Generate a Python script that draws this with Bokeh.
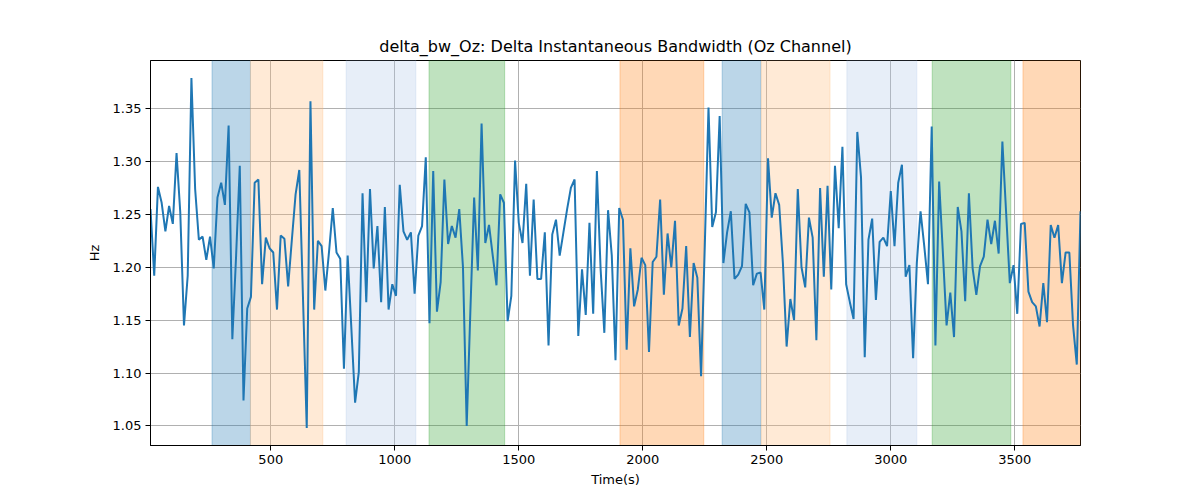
from bokeh.plotting import figure
from bokeh.models import Range1d, FixedTicker, ColumnDataSource
from bokeh.embed import file_html
from bokeh.resources import INLINE

title_text = "delta_bw_Oz: Delta Instantaneous Bandwidth (Oz Channel)"
x_label = "Time(s)"
y_label = "Hz"

t_start = 15
t_step = 15
bandwidth = [
    1.255, 1.192, 1.276, 1.261, 1.234, 1.258, 1.241, 1.308, 1.252, 1.145,
    1.192, 1.379, 1.274, 1.226, 1.229, 1.207, 1.229, 1.199, 1.266, 1.280,
    1.259, 1.334, 1.132, 1.210, 1.296, 1.074, 1.161, 1.172, 1.280, 1.283,
    1.184, 1.228, 1.218, 1.214, 1.160, 1.230, 1.227, 1.182, 1.226, 1.269,
    1.292, 1.170, 1.048, 1.357, 1.160, 1.225, 1.220, 1.178, 1.215, 1.256,
    1.214, 1.208, 1.104, 1.211, 1.142, 1.072, 1.101, 1.270, 1.167, 1.274,
    1.199, 1.239, 1.167, 1.257, 1.160, 1.184, 1.173, 1.278, 1.234, 1.226,
    1.233, 1.175, 1.230, 1.239, 1.304, 1.147, 1.291, 1.158, 1.186, 1.283,
    1.222, 1.239, 1.228, 1.255, 1.200, 1.050, 1.160, 1.266, 1.197, 1.336,
    1.223, 1.240, 1.211, 1.183, 1.269, 1.261, 1.149, 1.173, 1.301, 1.242,
    1.223, 1.279, 1.192, 1.264, 1.189, 1.189, 1.233, 1.126, 1.231, 1.245,
    1.211, 1.233, 1.255, 1.275, 1.283, 1.135, 1.198, 1.155, 1.242, 1.156,
    1.291, 1.198, 1.138, 1.254, 1.211, 1.112, 1.256, 1.245, 1.122, 1.218,
    1.163, 1.179, 1.209, 1.202, 1.120, 1.205, 1.210, 1.264, 1.174, 1.232,
    1.200, 1.244, 1.145, 1.161, 1.220, 1.134, 1.204, 1.190, 1.097, 1.220,
    1.351, 1.238, 1.252, 1.343, 1.204, 1.233, 1.253, 1.189, 1.193, 1.201,
    1.260, 1.252, 1.183, 1.194, 1.195, 1.160, 1.303, 1.247, 1.270, 1.259,
    1.204, 1.125, 1.170, 1.150, 1.274, 1.200, 1.181, 1.247, 1.228, 1.131,
    1.275, 1.191, 1.277, 1.179, 1.296, 1.237, 1.314, 1.184, 1.167, 1.151,
    1.328, 1.285, 1.115, 1.226, 1.246, 1.169, 1.224, 1.228, 1.220, 1.272,
    1.220, 1.280, 1.297, 1.191, 1.202, 1.114, 1.204, 1.253, 1.220, 1.184,
    1.333, 1.126, 1.281, 1.214, 1.145, 1.176, 1.134, 1.257, 1.234, 1.168,
    1.270, 1.199, 1.174, 1.201, 1.210, 1.245, 1.222, 1.244, 1.213, 1.319,
    1.252, 1.185, 1.202, 1.156, 1.241, 1.242, 1.177, 1.167, 1.163, 1.144,
    1.185, 1.148, 1.240, 1.228, 1.240, 1.185, 1.214, 1.214, 1.145, 1.108,
    1.253,
]
times = [t_start + t_step * i for i in range(len(bandwidth))]

span_start = [263, 418, 804, 1138, 1908, 2320, 2478, 2823, 3167, 3533]
span_end = [418, 710, 1085, 1443, 2246, 2476, 2755, 3105, 3484, 3800]
span_color = ["#1f77b4", "#ffbb78", "#aec7e8", "#2ca02c", "#ff7f0e",
              "#1f77b4", "#ffbb78", "#aec7e8", "#2ca02c", "#ff7f0e"]

x_ticks = [500, 1000, 1500, 2000, 2500, 3000, 3500]
y_ticks = [1.05, 1.10, 1.15, 1.20, 1.25, 1.30, 1.35]
y_tick_labels = {v: f"{v:.2f}" for v in y_ticks}

ymin, ymax = min(bandwidth), max(bandwidth)
pad = 0.05 * (ymax - ymin)

FONT = "DejaVu Sans"

p = figure(
    output_backend="svg", toolbar_location=None,
    frame_width=930, frame_height=385,
    min_border_left=150, min_border_right=116,
    min_border_top=60, min_border_bottom=51,
    x_range=Range1d(times[0], times[-1]),
    y_range=Range1d(ymin - pad, ymax + pad),
    title=title_text,
)
p.title.align = "center"
p.title.text_font = FONT
p.title.text_font_size = "16px"
p.title.text_font_style = "normal"
p.title.text_color = "black"

spans = ColumnDataSource(dict(left=span_start, right=span_end, color=span_color))
p.quad(left="left", right="right", bottom=0, top=2, fill_color="color",
       fill_alpha=0.3, line_color="color", line_alpha=0.3, line_width=1, source=spans)

p.line(times, bandwidth, line_color="#1f77b4", line_width=2)

p.outline_line_color = "black"
p.outline_line_alpha = 1
p.outline_line_width = 1

for ax in (p.xaxis[0], p.yaxis[0]):
    ax.axis_line_color = "black"
    ax.major_tick_line_color = "black"
    ax.major_tick_out = 5
    ax.major_tick_in = 0
    ax.minor_tick_out = 0
    ax.minor_tick_in = 0
    ax.major_label_text_font = FONT
    ax.major_label_text_font_size = "13px"
    ax.major_label_text_color = "black"
    ax.axis_label_text_font = FONT
    ax.axis_label_text_font_size = "13px"
    ax.axis_label_text_font_style = "normal"
    ax.axis_label_text_color = "black"

p.xaxis.ticker = FixedTicker(ticks=x_ticks)
p.yaxis.ticker = FixedTicker(ticks=y_ticks)
p.yaxis.major_label_overrides = y_tick_labels
p.xaxis.axis_label = x_label
p.yaxis.axis_label = y_label
p.xaxis.major_label_standoff = 4
p.yaxis.major_label_standoff = 4
p.xaxis.axis_label_standoff = 5
p.yaxis.axis_label_standoff = 8

p.xgrid.grid_line_color = "#b0b0b0"
p.ygrid.grid_line_color = "#b0b0b0"
p.xgrid.grid_line_width = 1
p.ygrid.grid_line_width = 1
p.xgrid.ticker = FixedTicker(ticks=x_ticks)
p.ygrid.ticker = FixedTicker(ticks=y_ticks)

open("out.html", "w").write(file_html(p, INLINE))
